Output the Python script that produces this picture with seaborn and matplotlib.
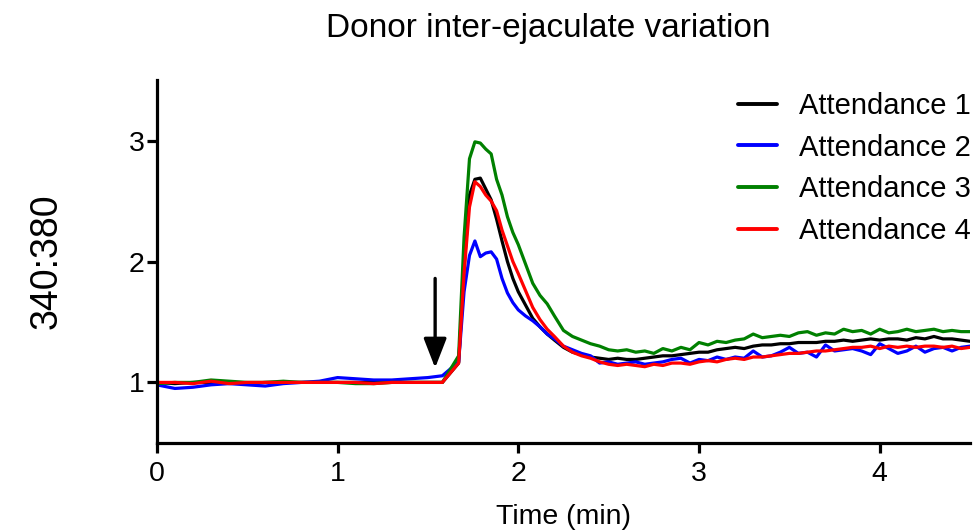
import pandas as pd
import numpy as np
import matplotlib
matplotlib.use("Agg")
import matplotlib.pyplot as plt
import seaborn as sns

# time points (min): baseline, rise/peak, tail
time = [0.0, 0.1, 0.2, 0.3, 0.4, 0.5, 0.6, 0.7, 0.8, 0.9, 1.0, 1.1, 1.2, 1.3, 1.4, 1.5, 1.58,
        1.67, 1.70, 1.73, 1.76, 1.79, 1.82, 1.85, 1.88, 1.91, 1.94, 1.97, 2.00, 2.04, 2.08,
        2.12, 2.16, 2.20, 2.25, 2.30, 2.35, 2.40,
        2.45, 2.50, 2.55, 2.60, 2.65, 2.70, 2.75, 2.80, 2.85, 2.90, 2.95, 3.00, 3.05, 3.10,
        3.15, 3.20, 3.25, 3.30, 3.35, 3.40, 3.45, 3.50, 3.55, 3.60, 3.65, 3.70, 3.75, 3.80,
        3.85, 3.90, 3.95, 4.00, 4.05, 4.10, 4.15, 4.20, 4.25, 4.30, 4.35, 4.40, 4.45, 4.50]

attendance_1 = [1.00, 0.99, 1.00, 1.00, 1.00, 0.99, 1.00, 1.00, 1.00, 1.00, 1.00, 1.00, 1.00, 1.00, 1.00, 1.00, 1.00,
                1.16, 1.95, 2.55, 2.68, 2.69, 2.60, 2.51, 2.35, 2.17, 2.00, 1.86, 1.75, 1.64, 1.53,
                1.46, 1.40, 1.35, 1.29, 1.25, 1.23, 1.21,
                1.20, 1.19, 1.20, 1.19, 1.19, 1.20, 1.21, 1.22, 1.22, 1.23, 1.24, 1.25, 1.25, 1.27,
                1.28, 1.29, 1.28, 1.30, 1.31, 1.31, 1.32, 1.32, 1.33, 1.33, 1.33, 1.34, 1.34, 1.35,
                1.34, 1.35, 1.36, 1.35, 1.36, 1.36, 1.35, 1.37, 1.36, 1.38, 1.36, 1.36, 1.35, 1.34]

attendance_2 = [0.98, 0.95, 0.96, 0.98, 0.99, 0.98, 0.97, 0.99, 1.00, 1.01, 1.04, 1.03, 1.02, 1.02, 1.03, 1.04, 1.055,
                1.17, 1.75, 2.05, 2.17, 2.04, 2.07, 2.08, 2.02, 1.86, 1.74, 1.66, 1.60, 1.55, 1.51,
                1.46, 1.40, 1.36, 1.30, 1.27, 1.24, 1.22,
                1.16, 1.17, 1.15, 1.16, 1.17, 1.15, 1.16, 1.17, 1.19, 1.20, 1.16, 1.19, 1.18, 1.21,
                1.19, 1.21, 1.20, 1.26, 1.21, 1.22, 1.25, 1.29, 1.24, 1.25, 1.21, 1.31, 1.26, 1.27,
                1.28, 1.26, 1.23, 1.32, 1.28, 1.24, 1.26, 1.30, 1.25, 1.28, 1.29, 1.26, 1.29, 1.30]

attendance_3 = [0.99, 1.00, 1.00, 1.02, 1.01, 1.00, 1.00, 1.01, 1.00, 1.00, 1.00, 0.99, 0.99, 1.00, 1.00, 1.00, 1.00,
                1.22, 2.20, 2.85, 2.99, 2.98, 2.93, 2.89, 2.68, 2.55, 2.37, 2.24, 2.14, 1.98, 1.82,
                1.72, 1.65, 1.55, 1.43, 1.38, 1.35, 1.32,
                1.30, 1.27, 1.26, 1.27, 1.25, 1.26, 1.24, 1.28, 1.26, 1.29, 1.27, 1.33, 1.31, 1.34,
                1.33, 1.35, 1.36, 1.40, 1.37, 1.38, 1.39, 1.38, 1.41, 1.42, 1.39, 1.41, 1.40, 1.44,
                1.42, 1.43, 1.40, 1.44, 1.41, 1.42, 1.44, 1.42, 1.43, 1.44, 1.42, 1.43, 1.42, 1.42]

attendance_4 = [1.00, 1.00, 0.99, 1.01, 0.99, 1.00, 1.00, 1.00, 1.00, 1.00, 1.00, 1.00, 0.99, 1.00, 1.00, 1.00, 1.00,
                1.16, 1.90, 2.45, 2.66, 2.62, 2.55, 2.50, 2.42, 2.26, 2.13, 2.00, 1.90, 1.76, 1.62,
                1.52, 1.44, 1.38, 1.30, 1.25, 1.22, 1.20,
                1.17, 1.15, 1.14, 1.15, 1.14, 1.13, 1.15, 1.14, 1.16, 1.16, 1.15, 1.17, 1.18, 1.17,
                1.19, 1.20, 1.19, 1.21, 1.21, 1.22, 1.23, 1.24, 1.24, 1.25, 1.26, 1.26, 1.27, 1.28,
                1.29, 1.29, 1.30, 1.28, 1.30, 1.29, 1.30, 1.29, 1.30, 1.30, 1.29, 1.30, 1.28, 1.29]

labels = ["Attendance 1", "Attendance 2", "Attendance 3", "Attendance 4"]
colors = ["#000000", "#0000ff", "#008000", "#ff0000"]
x_ticks = [0, 1, 2, 3, 4]
y_ticks = [1, 2, 3]

frames = []
for lab, vals in zip(labels, [attendance_1, attendance_2, attendance_3, attendance_4]):
    frames.append(pd.DataFrame({"time": time, "ratio": vals, "series": lab}))
df = pd.concat(frames, ignore_index=True)

sns.set_style("ticks")
plt.rcParams["font.family"] = ["Liberation Sans", "DejaVu Sans"]
plt.rcParams["text.color"] = "black"
plt.rcParams["axes.labelcolor"] = "black"
plt.rcParams["xtick.color"] = "black"
plt.rcParams["ytick.color"] = "black"
plt.rcParams["axes.edgecolor"] = "black"

fig = plt.figure(figsize=(9.74, 5.31), dpi=100)
ax = fig.add_axes([0.161, 0.166, 0.835, 0.683])

sns.lineplot(data=df, x="time", y="ratio", hue="series", palette=colors,
             linewidth=2.3, ax=ax, sort=False)

# injection arrow
ax.annotate("", xy=(1.54, 1.12), xytext=(1.54, 1.86),
            arrowprops=dict(arrowstyle="-|>,head_width=0.7,head_length=1.8",
                            color="black", lw=2.4, shrinkA=0, shrinkB=0))

ax.set_xlim(0, 4.5)
ax.set_ylim(0.5, 3.5)
ax.set_xticks(x_ticks)
ax.set_xticklabels([str(t) for t in x_ticks], fontsize=20.5)
ax.set_yticks(y_ticks)
ax.set_yticklabels([str(t) for t in y_ticks], fontsize=20.5)
ax.tick_params(axis="both", width=2.3, length=7)
ax.tick_params(axis="x", pad=6)
ax.tick_params(axis="y", pad=2)
for side in ["left", "bottom"]:
    ax.spines[side].set_linewidth(2.3)
sns.despine(ax=ax)

ax.set_xlabel("Time (min)", fontsize=20.5, labelpad=12)
ax.set_ylabel("340:380", fontsize=27, labelpad=46)
fig.text(548 / 974, 1 - 28 / 531, "Donor inter-ejaculate variation",
         fontsize=24, ha="center", va="center")

leg = ax.legend(loc="upper right", bbox_to_anchor=(1.033, 1.04), frameon=False, fontsize=21,
                handlelength=1.35, handletextpad=0.75, labelspacing=0.47)
for line in leg.get_lines():
    line.set_linewidth(2.8)

fig.savefig("out.png", dpi=100)
